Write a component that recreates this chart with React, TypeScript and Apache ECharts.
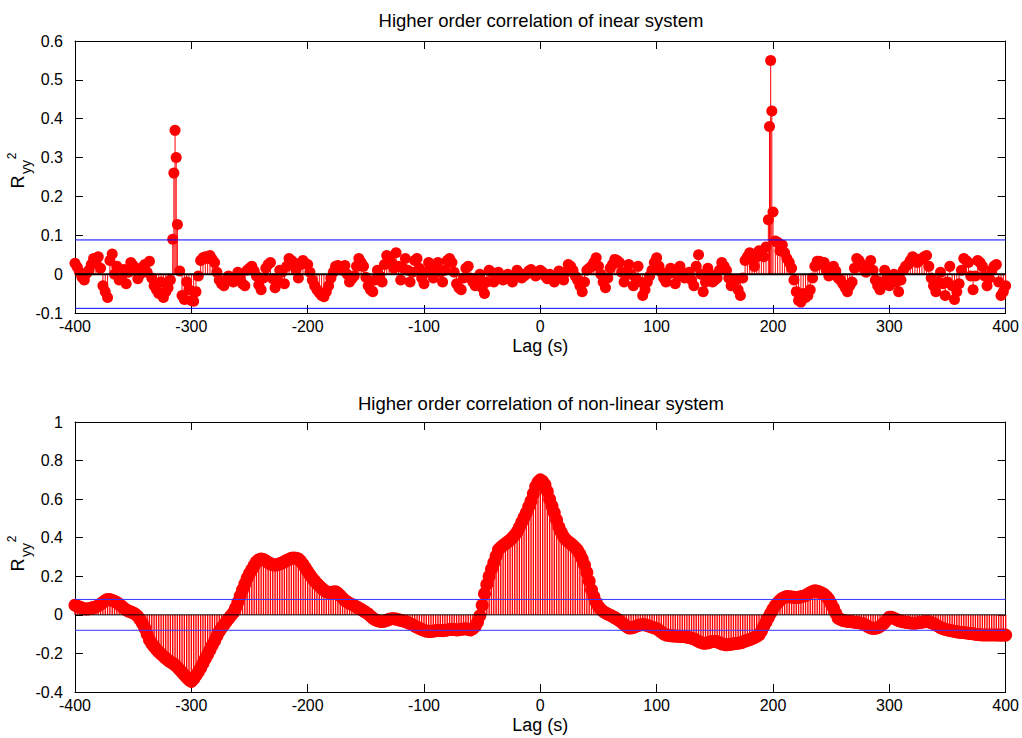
import React, { useEffect, useRef } from "react";
import * as echarts from "echarts";

// ---------- data ----------
const LAG_MIN = -400;
const LAG_STEP = 2;
const xTickLabels = ["-400", "-300", "-200", "-100", "0", "100", "200", "300", "400"];

// top panel: higher order correlation of linear system, lags -400..400 step 2
const topVals = [
  0.028, 0.018, 0.005, -0.008, -0.015, 0.002, 0.010, 0.025, 0.040, 0.030, 0.045, 0.015, -0.030, -0.045, -0.060, 0.035, 0.052, 0.000, 0.020, -0.015,
  -0.010, 0.012, -0.025, 0.005, 0.030, 0.022, 0.015, -0.012, 0.000, 0.018, 0.025, 0.005, 0.033, -0.010, -0.030, -0.040, -0.050, -0.020, -0.060, -0.045,
  -0.035, -0.015, 0.090, 0.370, 0.128, 0.008, -0.055, -0.065, -0.020, -0.040, -0.068, -0.070, -0.045, -0.005, 0.035, 0.042, 0.045, 0.040, 0.048, 0.038,
  0.030, 0.005, -0.015, -0.025, -0.030, -0.018, -0.005, -0.012, -0.020, -0.008, 0.005, -0.010, -0.025, -0.030, 0.010, 0.015, 0.020, 0.008, -0.005, -0.028,
  -0.040, -0.010, 0.015, 0.025, 0.030, -0.012, -0.035, -0.015, 0.010, 0.005, -0.025, 0.020, 0.040, 0.035, 0.030, 0.012, -0.010, 0.025, 0.035, 0.028,
  0.025, 0.005, -0.015, -0.030, -0.040, -0.048, -0.055, -0.058, -0.045, -0.030, -0.010, 0.005, 0.020, 0.022, 0.015, 0.010, 0.022, 0.000, -0.020, -0.012,
  -0.005, 0.020, 0.040, 0.030, 0.020, -0.008, -0.030, -0.040, -0.045, -0.015, 0.010, -0.005, -0.020, 0.025, 0.048, 0.040, 0.030, 0.015, 0.055, 0.020,
  -0.015, 0.015, 0.040, 0.010, -0.020, 0.005, 0.035, 0.040, 0.015, -0.010, -0.025, 0.005, 0.030, 0.015, -0.010, 0.015, 0.030, 0.005, -0.020, 0.010,
  0.035, 0.040, 0.030, 0.005, -0.025, -0.035, -0.040, -0.010, 0.015, 0.020, -0.010, -0.020, -0.030, -0.015, 0.000, -0.035, -0.050, -0.020, 0.010, 0.005,
  -0.020, -0.010, 0.005, -0.005, -0.015, -0.008, 0.000, -0.012, -0.020, -0.005, 0.010, 0.002, -0.010, -0.005, 0.000, 0.008, 0.012, 0.003, -0.005, 0.005,
  0.010, 0.005, -0.005, -0.012, 0.000, -0.010, -0.020, -0.005, 0.008, 0.000, -0.015, 0.005, 0.025, 0.020, 0.010, -0.005, -0.015, -0.030, -0.045, -0.020,
  0.010, 0.015, 0.020, 0.030, 0.042, 0.020, 0.000, -0.020, -0.035, -0.010, 0.015, 0.025, 0.038, 0.035, 0.030, 0.005, -0.020, 0.005, 0.025, 0.000,
  -0.030, -0.010, 0.020, -0.020, -0.055, -0.040, -0.020, -0.005, 0.010, 0.030, 0.042, 0.020, 0.005, -0.010, -0.020, 0.000, 0.015, 0.005, -0.025, -0.005,
  0.020, 0.005, -0.010, -0.005, 0.005, -0.015, -0.030, 0.020, 0.050, 0.000, -0.045, -0.020, 0.015, 0.000, -0.020, -0.015, -0.010, 0.010, 0.030, 0.020,
  0.010, -0.010, -0.030, -0.025, -0.015, -0.040, -0.055, -0.010, 0.035, 0.045, 0.055, 0.040, 0.020, 0.045, 0.060, 0.055, 0.045, 0.070, 0.140, 0.550,
  0.160, 0.085, 0.082, 0.060, 0.075, 0.055, 0.040, 0.030, 0.015, -0.015, -0.045, -0.068, -0.072, -0.050, -0.060, -0.055, -0.040, -0.010, 0.020, 0.033,
  0.033, 0.025, 0.030, 0.010, -0.005, 0.005, 0.020, 0.008, -0.010, -0.015, -0.025, -0.035, -0.045, -0.030, -0.020, 0.015, 0.040, 0.035, 0.025, 0.015,
  0.005, 0.020, 0.035, 0.010, -0.015, -0.030, -0.040, -0.020, 0.010, -0.010, -0.030, -0.015, 0.000, -0.020, -0.045, -0.015, 0.010, 0.020, 0.025, 0.035,
  0.045, 0.040, 0.030, 0.035, 0.040, 0.045, 0.048, 0.020, -0.010, -0.030, -0.045, -0.020, 0.005, -0.025, -0.055, -0.020, 0.020, -0.030, -0.065, -0.045,
  -0.025, 0.010, 0.040, 0.035, 0.030, -0.005, -0.040, -0.005, 0.035, 0.030, 0.020, -0.005, -0.030, -0.010, 0.010, 0.020, 0.025, -0.020, -0.055, -0.045,
  -0.030,
];
const topSpikeLags = [-315, -313, 197, 199];
const topSpikeVals = [0.26, 0.30, 0.38, 0.42];
const topThreshold = 0.088;

// bottom panel: higher order correlation of non-linear system, lags -400..400 step 2
const bottomVals = [
  0.050, 0.045, 0.040, 0.035, 0.032, 0.030, 0.032, 0.035, 0.038, 0.042, 0.048, 0.056, 0.065, 0.074, 0.080, 0.079, 0.075, 0.070, 0.064, 0.055,
  0.045, 0.035, 0.026, 0.020, 0.015, 0.010, 0.003, -0.008, -0.025, -0.045, -0.070, -0.100, -0.130, -0.150, -0.165, -0.180, -0.192, -0.204, -0.215, -0.226,
  -0.236, -0.244, -0.252, -0.260, -0.272, -0.285, -0.298, -0.312, -0.325, -0.337, -0.345, -0.332, -0.315, -0.296, -0.275, -0.252, -0.228, -0.205, -0.182, -0.158,
  -0.135, -0.110, -0.086, -0.068, -0.052, -0.036, -0.020, -0.005, 0.010, 0.035, 0.065, 0.098, 0.130, 0.160, 0.190, 0.214, 0.235, 0.256, 0.275, 0.285,
  0.290, 0.287, 0.280, 0.272, 0.265, 0.260, 0.258, 0.260, 0.265, 0.270, 0.275, 0.282, 0.288, 0.293, 0.295, 0.294, 0.290, 0.278, 0.262, 0.244,
  0.225, 0.207, 0.190, 0.176, 0.162, 0.150, 0.138, 0.128, 0.120, 0.116, 0.115, 0.118, 0.120, 0.112, 0.100, 0.087, 0.075, 0.067, 0.060, 0.054,
  0.048, 0.042, 0.035, 0.028, 0.020, 0.013, 0.005, -0.006, -0.017, -0.025, -0.030, -0.033, -0.035, -0.032, -0.028, -0.023, -0.020, -0.020, -0.022, -0.025,
  -0.028, -0.031, -0.035, -0.040, -0.045, -0.051, -0.058, -0.064, -0.070, -0.075, -0.080, -0.084, -0.086, -0.086, -0.084, -0.082, -0.080, -0.081, -0.082, -0.080,
  -0.078, -0.076, -0.074, -0.076, -0.078, -0.077, -0.075, -0.073, -0.072, -0.075, -0.078, -0.072, -0.060, -0.038, -0.005, 0.050, 0.110, 0.158, 0.200, 0.237,
  0.270, 0.305, 0.337, 0.350, 0.360, 0.369, 0.378, 0.388, 0.400, 0.414, 0.430, 0.454, 0.480, 0.505, 0.530, 0.560, 0.590, 0.628, 0.665, 0.688,
  0.700, 0.692, 0.675, 0.640, 0.600, 0.565, 0.530, 0.492, 0.455, 0.428, 0.405, 0.390, 0.380, 0.370, 0.360, 0.348, 0.335, 0.315, 0.290, 0.258,
  0.220, 0.175, 0.130, 0.095, 0.065, 0.043, 0.028, 0.018, 0.010, 0.004, -0.002, -0.008, -0.015, -0.022, -0.030, -0.040, -0.050, -0.060, -0.068, -0.068,
  -0.065, -0.060, -0.055, -0.052, -0.050, -0.052, -0.055, -0.060, -0.064, -0.068, -0.072, -0.080, -0.090, -0.098, -0.104, -0.106, -0.108, -0.109, -0.110, -0.111,
  -0.112, -0.112, -0.112, -0.115, -0.118, -0.121, -0.125, -0.131, -0.138, -0.143, -0.147, -0.147, -0.145, -0.141, -0.138, -0.138, -0.140, -0.145, -0.150, -0.153,
  -0.155, -0.154, -0.152, -0.150, -0.148, -0.147, -0.145, -0.141, -0.136, -0.132, -0.128, -0.123, -0.118, -0.112, -0.104, -0.085, -0.060, -0.038, -0.015, 0.008,
  0.030, 0.048, 0.062, 0.075, 0.085, 0.091, 0.095, 0.094, 0.092, 0.091, 0.090, 0.091, 0.094, 0.097, 0.100, 0.107, 0.115, 0.121, 0.125, 0.123,
  0.118, 0.113, 0.106, 0.095, 0.080, 0.058, 0.035, 0.008, -0.017, -0.023, -0.028, -0.031, -0.034, -0.035, -0.036, -0.038, -0.040, -0.041, -0.043, -0.048,
  -0.055, -0.062, -0.068, -0.070, -0.070, -0.066, -0.060, -0.051, -0.040, -0.025, -0.012, -0.013, -0.018, -0.024, -0.030, -0.033, -0.036, -0.038, -0.040, -0.042,
  -0.043, -0.043, -0.042, -0.040, -0.038, -0.036, -0.035, -0.037, -0.040, -0.046, -0.052, -0.059, -0.066, -0.071, -0.075, -0.078, -0.080, -0.083, -0.086, -0.088,
  -0.090, -0.091, -0.092, -0.094, -0.095, -0.097, -0.098, -0.100, -0.102, -0.103, -0.104, -0.104, -0.104, -0.104, -0.104, -0.104, -0.104, -0.105, -0.105, -0.105,
  -0.105,
];
const bottomThreshold = 0.08;

const topTitle = "Higher order correlation of inear system";
const bottomTitle = "Higher order correlation of non-linear system";
const xName = "Lag (s)";

// ---------- helpers ----------
const FONT = "'Liberation Sans', Arial, Helvetica, sans-serif";
const X_MIN = Number(xTickLabels[0]);
const X_MAX = Number(xTickLabels[xTickLabels.length - 1]);

function gridData(vals: number[]) {
  return vals.map((v, i) => [LAG_MIN + LAG_STEP * i, v]);
}

const topData = gridData(topVals)
  .concat(topSpikeLags.map((l, i) => [l, topSpikeVals[i]]))
  .sort((a, b) => a[0] - b[0]);
const bottomData = gridData(bottomVals);

function hLine(y: number) {
  return [
    [X_MIN, y],
    [X_MAX, y],
  ];
}

export default function App() {
  const ref = useRef<HTMLDivElement>(null);

  useEffect(() => {
    if (!ref.current) return;
    const chart = echarts.init(ref.current, undefined, { renderer: "svg" });

    const grids = [
      { left: 75, top: 41, width: 932, height: 272 },
      { left: 75, top: 422, width: 932, height: 270 },
    ];

    const baseX = (gridIndex: number, pos: "bottom" | "top") => ({
      type: "value",
      gridIndex,
      position: pos,
      min: X_MIN,
      max: X_MAX,
      interval: 100,
      axisLine: { show: true, onZero: false, lineStyle: { color: "#000", width: 1 } },
      axisTick: { show: true, inside: true, length: 8, lineStyle: { color: "#000" } },
      splitLine: { show: false },
      axisLabel:
        pos === "bottom"
          ? { show: true, color: "#000", fontSize: 16, fontFamily: FONT, margin: 5 }
          : { show: false },
      name: pos === "bottom" ? xName : "",
      nameLocation: "middle",
      nameGap: 24,
      nameTextStyle: { color: "#000", fontSize: 18, fontFamily: FONT },
    });

    const baseY = (
      gridIndex: number,
      pos: "left" | "right",
      min: number,
      max: number,
      interval: number
    ) => ({
      type: "value",
      gridIndex,
      position: pos,
      min,
      max,
      interval,
      axisLine: { show: true, onZero: false, lineStyle: { color: "#000", width: 1 } },
      axisTick: { show: true, inside: true, length: 8, lineStyle: { color: "#000" } },
      splitLine: { show: false },
      axisLabel:
        pos === "left"
          ? { show: true, color: "#000", fontSize: 16, fontFamily: FONT, margin: 12 }
          : { show: false },
    });

    const stem = (xi: number, yi: number, data: number[][], w: number) => ({
      type: "bar",
      xAxisIndex: xi,
      yAxisIndex: yi,
      data,
      barWidth: w,
      itemStyle: { color: "#ff0000" },
      z: 2,
      silent: true,
    });
    const dots = (xi: number, yi: number, data: number[][], size: number) => ({
      type: "scatter",
      xAxisIndex: xi,
      yAxisIndex: yi,
      data,
      symbol: "circle",
      symbolSize: size,
      itemStyle: { color: "#ff0000", opacity: 1 },
      z: 3,
      silent: true,
    });
    const line = (xi: number, yi: number, y: number, color: string, width: number) => ({
      type: "line",
      xAxisIndex: xi,
      yAxisIndex: yi,
      data: hLine(y),
      symbol: "none",
      lineStyle: { color, width },
      z: 5,
      silent: true,
    });

    const ylabel = (cy: number) => [
      {
        type: "text",
        x: 18,
        y: cy + 7,
        rotation: Math.PI / 2,
        style: {
          text: "R",
          font: `18px ${FONT}`,
          fill: "#000",
          textAlign: "center",
          textVerticalAlign: "middle",
        },
      },
      {
        type: "text",
        x: 26,
        y: cy - 8,
        rotation: Math.PI / 2,
        style: {
          text: "yy",
          font: `14px ${FONT}`,
          fill: "#000",
          textAlign: "center",
          textVerticalAlign: "middle",
        },
      },
      {
        type: "text",
        x: 12,
        y: cy - 19,
        rotation: Math.PI / 2,
        style: {
          text: "2",
          font: `12px ${FONT}`,
          fill: "#000",
          textAlign: "center",
          textVerticalAlign: "middle",
        },
      },
    ];

    chart.setOption({
      animation: false,
      backgroundColor: "#ffffff",
      grid: grids,
      xAxis: [baseX(0, "bottom"), baseX(1, "bottom"), baseX(0, "top"), baseX(1, "top")],
      yAxis: [
        baseY(0, "left", -0.1, 0.6, 0.1),
        baseY(1, "left", -0.4, 1, 0.2),
        baseY(0, "right", -0.1, 0.6, 0.1),
        baseY(1, "right", -0.4, 1, 0.2),
      ],
      graphic: [
        {
          type: "text",
          x: 541,
          y: 20,
          style: {
            text: topTitle,
            font: `18.5px ${FONT}`,
            fill: "#000",
            textAlign: "center",
            textVerticalAlign: "middle",
          },
        },
        {
          type: "text",
          x: 541,
          y: 403,
          style: {
            text: bottomTitle,
            font: `18.5px ${FONT}`,
            fill: "#000",
            textAlign: "center",
            textVerticalAlign: "middle",
          },
        },
        ...ylabel(175),
        ...ylabel(558),
      ],
      series: [
        stem(0, 0, topData, 1),
        dots(0, 0, topData, 11),
        line(0, 0, 0, "#000000", 2),
        line(0, 0, topThreshold, "#0000ff", 1),
        line(0, 0, -topThreshold, "#0000ff", 1),
        stem(1, 1, bottomData, 1.4),
        line(1, 1, 0, "#000000", 1),
        dots(1, 1, bottomData, 13),
        line(1, 1, bottomThreshold, "#3333ff", 1),
        line(1, 1, -bottomThreshold, "#3333ff", 1),
      ],
    });

    return () => chart.dispose();
  }, []);

  return (
    <div
      ref={ref}
      style={{ position: "fixed", left: 0, top: 0, width: 1022, height: 738, background: "#fff" }}
    />
  );
}
